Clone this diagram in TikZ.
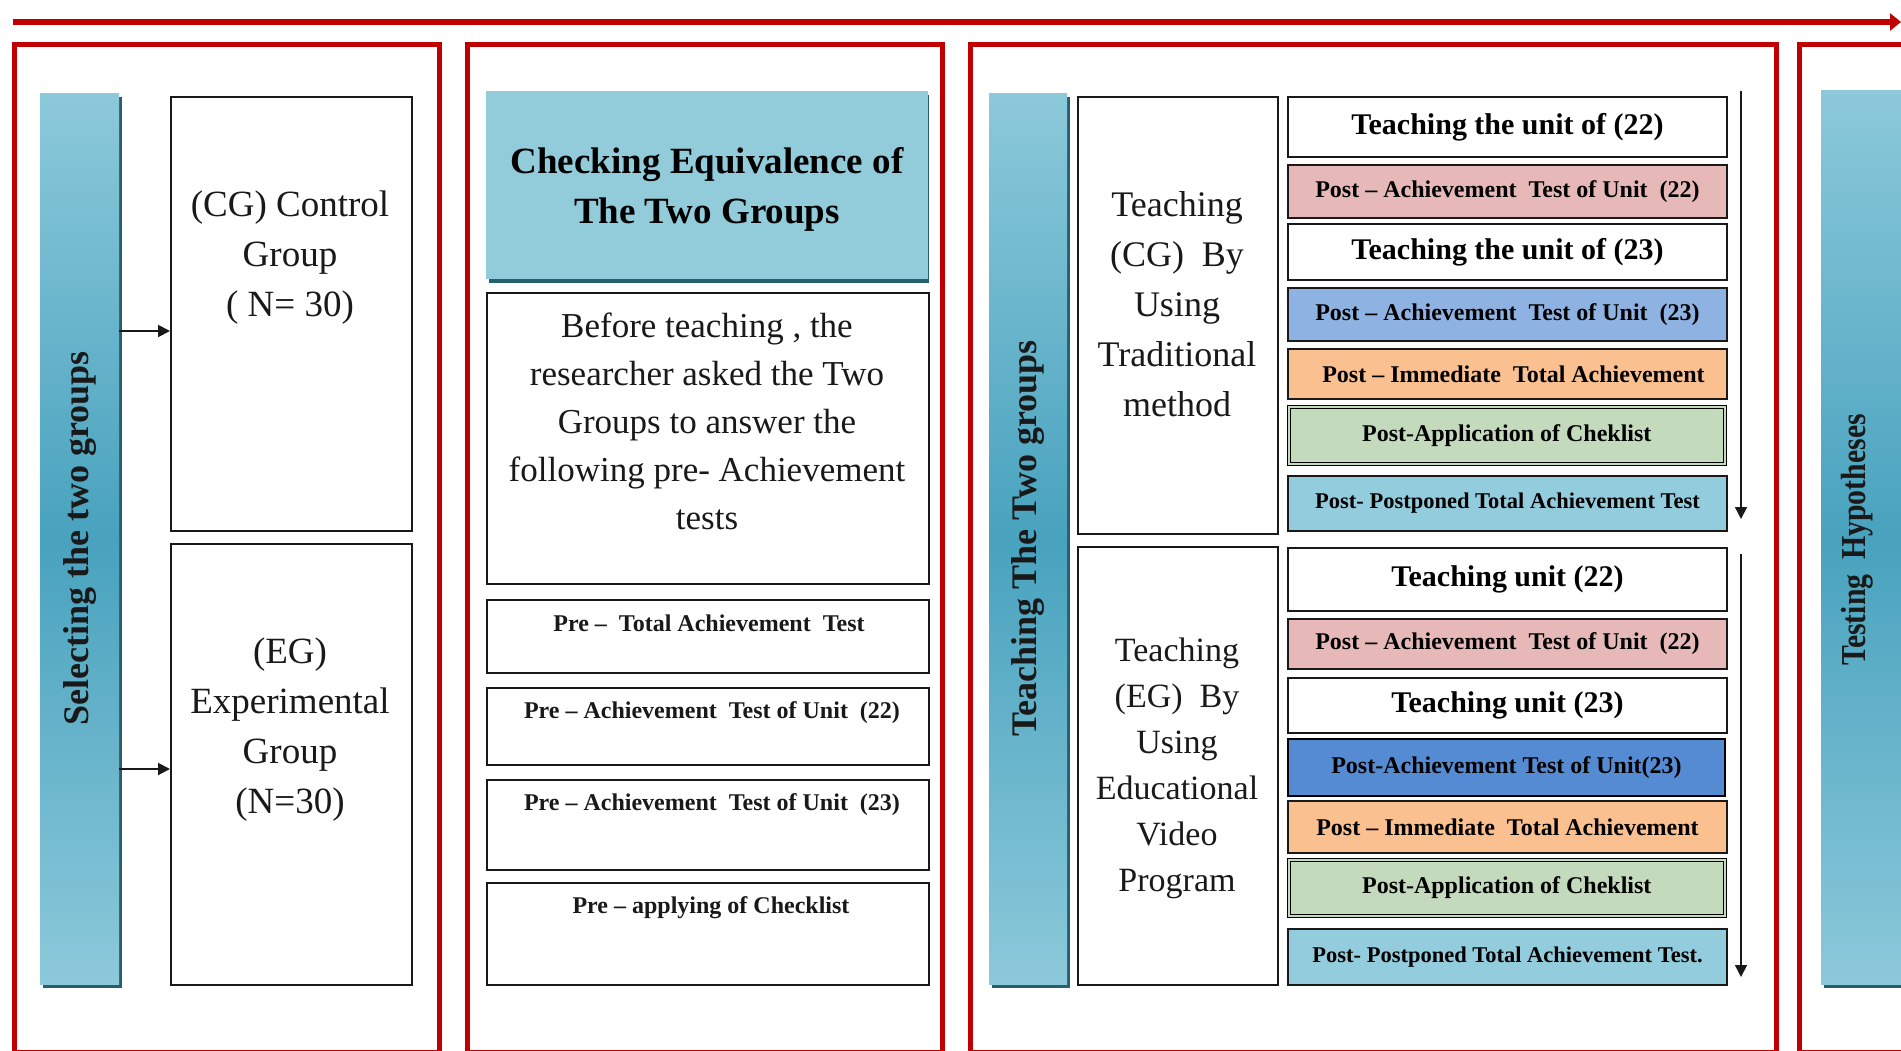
\documentclass[tikz,border=0pt]{standalone}
\usepackage{fontspec}
\setmainfont{Liberation Serif}
\usetikzlibrary{positioning}
\usetikzlibrary{arrows.meta}
\usepackage{xcolor}

\definecolor{framered}{RGB}{192,0,0}
\definecolor{barlight}{RGB}{140,201,218}
\definecolor{bardark}{RGB}{72,162,190}
\definecolor{barshade}{RGB}{40,95,110}
\definecolor{headblue}{RGB}{146,203,217}
\definecolor{pinkbox}{RGB}{230,185,184}
\definecolor{bluebox}{RGB}{142,179,226}
\definecolor{orangebox}{RGB}{250,192,144}
\definecolor{greenbox}{RGB}{195,218,188}
\definecolor{tealbox}{RGB}{147,205,221}
\definecolor{darkblue}{RGB}{85,139,211}
\definecolor{ink}{RGB}{25,25,25}

\begin{document}
\begin{tikzpicture}[x=1pt,y=-1pt,
  frame/.style={draw=framered,line width=5pt},
  bar/.style={anchor=north west,inner sep=0,top color=barlight,bottom color=barlight,middle color=bardark},
  bartext/.style={rotate=90,text=ink,font={\fontsize{36}{44}\selectfont\bfseries}},
  box/.style={anchor=north west,inner sep=0,draw=ink,line width=2pt,fill=white},
  grouptxt/.style={align=center,text=ink,font={\fontsize{37}{50}\selectfont}},
  headtxt/.style={align=center,text=black,font={\fontsize{37}{50}\selectfont\bfseries}},
  bodytxt/.style={align=center,text=ink,font={\fontsize{35}{48}\selectfont}},
  pretxt/.style={text=ink,font={\fontsize{24}{28}\selectfont\bfseries}},
  teachtxt/.style={align=center,text=ink,font={\fontsize{36}{50}\selectfont}},
  unittxt/.style={font={\fontsize{30}{34}\selectfont\bfseries}},
  posttxt/.style={font={\fontsize{24}{28}\selectfont\bfseries}},
  checkbox/.style={box,draw=black,line width=1.5pt,double=greenbox,double distance=1.5pt,fill=greenbox},
  arr/.style={-{Triangle[length=12pt,width=12pt]},line width=2pt,draw=ink}]

\useasboundingbox[fill=white] (0,0) rectangle (1901,1050);

% time line
\coordinate (start) at (13,22);
\coordinate (end) at (1901,22);
\draw[draw=framered,line width=6pt,-{Triangle[length=11pt,width=17pt]}] (start) -- (end);

% four stages
\draw[frame] (14.5,44.5) rectangle (439.5,1052);
\draw[frame] (467.5,44.5) rectangle (942,1052);
\draw[frame] (970.5,44.5) rectangle (1776,1052);
\draw[frame] (1799.5,44.5) rectangle (1960,1052);

% stage 1
\fill[barshade] (43,97) rectangle (122,988);
\node[bar,minimum width=79pt,minimum height=891pt] (select) at (40,93) {};
\node[bartext] (selecttxt) at (select.center) {Selecting the two groups};
\node[box,minimum width=241pt,minimum height=434pt] (cg) at (170,96) {};
\node[grouptxt] (cgtxt) at (290,258) {(CG) Control\\Group\\( N= 30)};
\node[box,minimum width=241pt,minimum height=441pt] (eg) at (170,543) {};
\node[grouptxt] (egtxt) at (290,730) {(EG)\\Experimental\\Group\\(N=30)};
\coordinate (s1) at (119,331);
\coordinate (s2) at (119,769);
\draw[arr] (s1) -- (s1 -| cg.west);
\draw[arr] (s2) -- (s2 -| eg.west);

% stage 2
\fill[barshade] (489,95) rectangle (929,283);
\node[anchor=north west,inner sep=0,fill=headblue,minimum width=442pt,minimum height=188pt] (check) at (486,91) {};
\node[headtxt] (checktxt) at (707,189) {Checking Equivalence of\\The Two Groups};
\node[box,minimum width=442pt,minimum height=291pt] (before) at (486,292) {};
\node[bodytxt] (beforetxt) at (707,421) {Before teaching , the\\researcher asked the Two\\Groups to answer the\\following pre- Achievement\\tests};
\node[box,minimum width=442pt,minimum height=73pt] (pre1) at (486,599) {};
\node[pretxt] (pre1txt) at (709,623) {Pre -- \ Total Achievement \ Test};
\node[box,minimum width=442pt,minimum height=77pt] (pre2) at (486,687) {};
\node[pretxt] (pre2txt) at (712,713) {Pre -- Achievement \ Test of Unit \ (22)};
\node[box,minimum width=442pt,minimum height=90pt] (pre3) at (486,779) {};
\node[pretxt] (pre3txt) at (712,805) {Pre -- Achievement \ Test of Unit \ (23)};
\node[box,minimum width=442pt,minimum height=102pt] (pre4) at (486,882) {};
\node[pretxt] (pre4txt) at (711,908) {Pre -- applying of Checklist};

% stage 3
\fill[barshade] (992,97) rectangle (1070,988);
\node[bar,minimum width=78pt,minimum height=891pt] (teach) at (989,93) {};
\node[bartext] (teachtxt) at (teach.center) {Teaching The Two groups};
\node[box,minimum width=200pt,minimum height=437pt] (cgteach) at (1077,96) {};
\node[teachtxt] (cgteachtxt) at (1177,304) {Teaching\\(CG)\ \ By\\Using\\Traditional\\method};
\node[box,minimum width=200pt,minimum height=438pt] (egteach) at (1077,546) {};
\node[teachtxt,font={\fontsize{34}{46}\selectfont}] (egteachtxt) at (1177,768) {Teaching\\(EG)\ \ By\\Using\\Educational\\Video\\Program};

% control group steps
\node[box,unittxt,minimum width=439pt,minimum height=60pt] (c1) at (1287,96) {Teaching the unit of (22)};
\node[box,posttxt,fill=pinkbox,minimum width=439pt,minimum height=53pt] (c2) at (1287,164) {Post -- Achievement \ Test of Unit \ (22)};
\node[box,unittxt,minimum width=439pt,minimum height=56pt] (c3) at (1287,223) {Teaching the unit of (23)};
\node[box,posttxt,fill=bluebox,minimum width=439pt,minimum height=53pt] (c4) at (1287,287) {Post -- Achievement \ Test of Unit \ (23)};
\node[box,posttxt,fill=orangebox,minimum width=439pt,minimum height=50pt] (c5) at (1287,348) {\ \ Post -- Immediate \ Total Achievement};
\node[checkbox,posttxt,minimum width=436pt,minimum height=57pt] (c6) at (1288,406) {Post-Application of Cheklist};
\node[box,fill=tealbox,font={\fontsize{22.5}{26}\selectfont\bfseries},minimum width=439pt,minimum height=55pt] (c7) at (1287,475) {Post- Postponed Total Achievement Test};

% experimental group steps
\node[box,unittxt,minimum width=439pt,minimum height=63pt] (e1) at (1287,547) {Teaching unit (22)};
\node[box,posttxt,fill=pinkbox,minimum width=439pt,minimum height=50pt] (e2) at (1287,618) {Post -- Achievement \ Test of Unit \ (22)};
\node[box,unittxt,minimum width=439pt,minimum height=55pt] (e3) at (1287,677) {Teaching unit (23)};
\node[box,posttxt,draw=black,fill=darkblue,minimum width=437pt,minimum height=57pt] (e4) at (1287,738) {Post-Achievement Test of Unit(23)};
\node[box,posttxt,fill=orangebox,minimum width=439pt,minimum height=52pt] (e5) at (1287,800) {Post -- Immediate \ Total Achievement};
\node[checkbox,posttxt,minimum width=436pt,minimum height=56pt] (e6) at (1288,859) {Post-Application of Cheklist};
\node[box,fill=tealbox,font={\fontsize{22.5}{26}\selectfont\bfseries},minimum width=439pt,minimum height=56pt] (e7) at (1287,928) {Post- Postponed Total Achievement Test.};

\coordinate (cgtop) at (1741,91);
\coordinate (cgend) at (1741,519);
\coordinate (egtop) at (1741,554);
\coordinate (egend) at (1741,977);
\draw[arr,line width=1.5pt] (cgtop) -- (cgend);
\draw[arr,line width=1.5pt] (egtop) -- (egend);

% stage 4
\fill[barshade] (1824,94) rectangle (1910,988);
\node[bar,minimum width=90pt,minimum height=894pt] (testing) at (1821,90) {};
\node[bartext,font={\fontsize{35}{40}\selectfont\bfseries}] (testingtxt) at (1857,540) {\scalebox{0.85}[1]{Testing\ \ Hypotheses}};
\end{tikzpicture}
\end{document}
